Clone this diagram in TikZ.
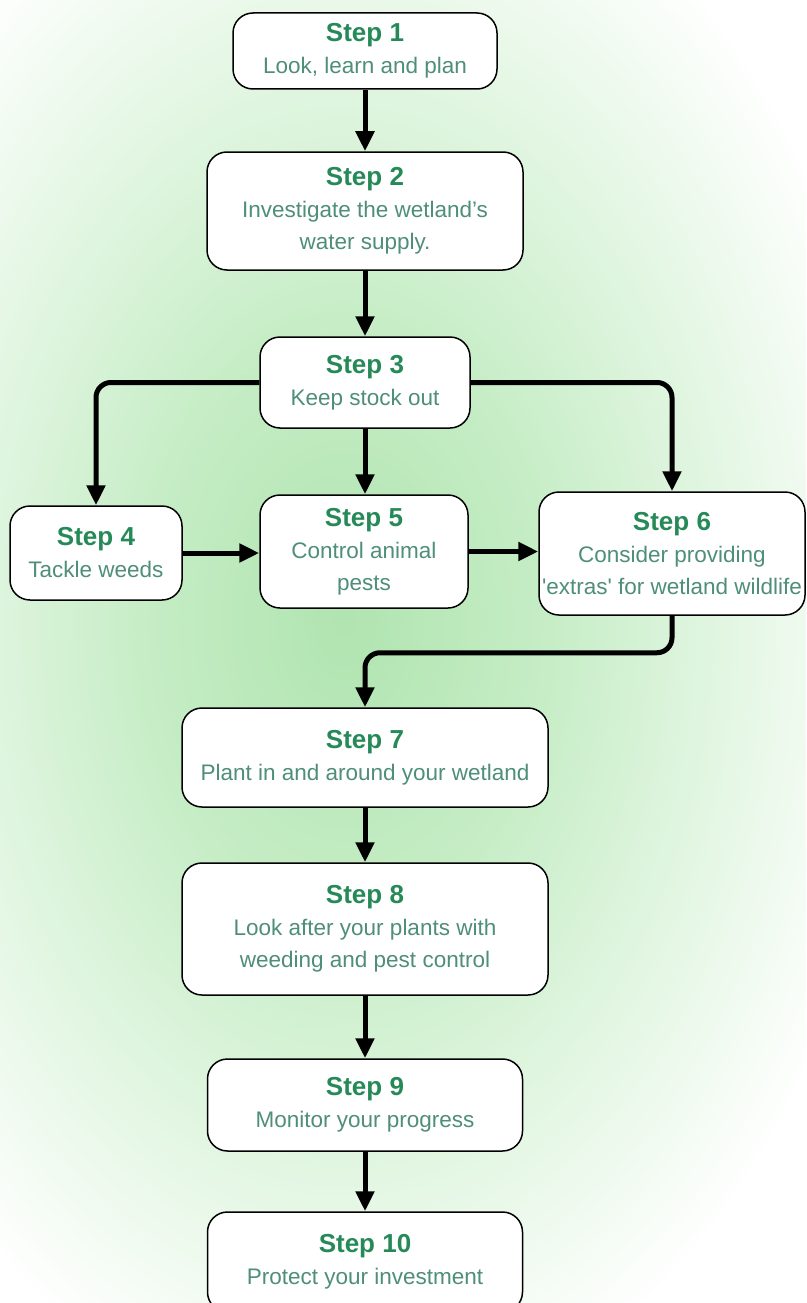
\documentclass[tikz,border=0pt]{standalone}
\usepackage{fontspec}
\setmainfont{Liberation Sans}
\usetikzlibrary{arrows.meta,calc}
\definecolor{titlegreen}{RGB}{38,138,88}
\definecolor{bodygreen}{RGB}{78,142,122}
\definecolor{bgA}{RGB}{176,228,176}
\definecolor{bgB}{RGB}{198,237,198}
\pgfdeclareradialshading{bgshade}{\pgfpoint{0bp}{0bp}}{color(0bp)=(bgA); color(9bp)=(bgB); color(25bp)=(white); color(50bp)=(white)}
\newcommand{\ttl}[1]{{\fontsize{26}{33}\selectfont\bfseries\color{titlegreen}#1}}
\tikzset{
  stepbox/.style={draw=black, line width=1.5pt, fill=white, rounded corners=20pt,
    align=center, inner sep=0pt, text=bodygreen, font=\fontsize{22.5}{32}\selectfont},
  conn/.style={line width=5pt, -{Triangle[length=20pt,width=18pt]}, rounded corners=15pt},
}
\begin{document}
\begin{tikzpicture}[x=1pt,y=-1pt]
\useasboundingbox (0,0) rectangle (806,1303);
\clip (0,0) rectangle (806,1303);
\fill[white] (0,0) rectangle (806,1303);
\shade[shading=bgshade] (345,620) ellipse [x radius=560pt, y radius=820pt];

\node[stepbox, minimum width=264pt, minimum height=76pt]  (b1)  at (365,51)    {\ttl{Step 1}\\Look, learn and plan};
\node[stepbox, minimum width=316pt, minimum height=118pt] (b2)  at (365,211)   {\ttl{Step 2}\\Investigate the wetland’s\\water supply.};
\node[stepbox, minimum width=210pt, minimum height=91pt]  (b3)  at (365,382.5) {\ttl{Step 3}\\Keep stock out};
\node[stepbox, minimum width=172pt, minimum height=94pt]  (b4)  at (96,553)    {\ttl{Step 4}\\Tackle weeds};
\node[stepbox, minimum width=208pt, minimum height=113pt] (b5)  at (364,551.5) {\ttl{Step 5}\\Control animal\\pests};
\node[stepbox, minimum width=266pt, minimum height=123pt] (b6)  at (672,553.5) {\ttl{Step 6}\\Consider providing\\\textquotesingle extras\textquotesingle\ for wetland wildlife};
\node[stepbox, minimum width=366pt, minimum height=99pt]  (b7)  at (365,757.5) {\ttl{Step 7}\\Plant in and around your wetland};
\node[stepbox, minimum width=366pt, minimum height=132pt] (b8)  at (365,929)   {\ttl{Step 8}\\Look after your plants with\\weeding and pest control};
\node[stepbox, minimum width=315pt, minimum height=92pt]  (b9)  at (365,1105)  {\ttl{Step 9}\\Monitor your progress};
\node[stepbox, minimum width=315pt, minimum height=100pt] (b10) at (365,1262)  {\ttl{Step 10}\\Protect your investment};

\draw[conn] (b1.south) -- (b2.north);
\draw[conn] (b2.south) -- (b3.north);
\draw[conn] (b3.west) -| (b4.north);
\draw[conn] (b3.east) -| (b6.north);
\draw[conn] (b3.south) -- (b3.south |- b5.north);
\draw[conn] (b4.east) -- (b4.east -| b5.west);
\draw[conn] (b5.east) -- (b5.east -| b6.west);
\draw[conn] (b6.south) -- ++(0,37) -| (b7.north);
\draw[conn] (b7.south) -- (b8.north);
\draw[conn] (b8.south) -- (b9.north);
\draw[conn] (b9.south) -- (b10.north);
\end{tikzpicture}
\end{document}
